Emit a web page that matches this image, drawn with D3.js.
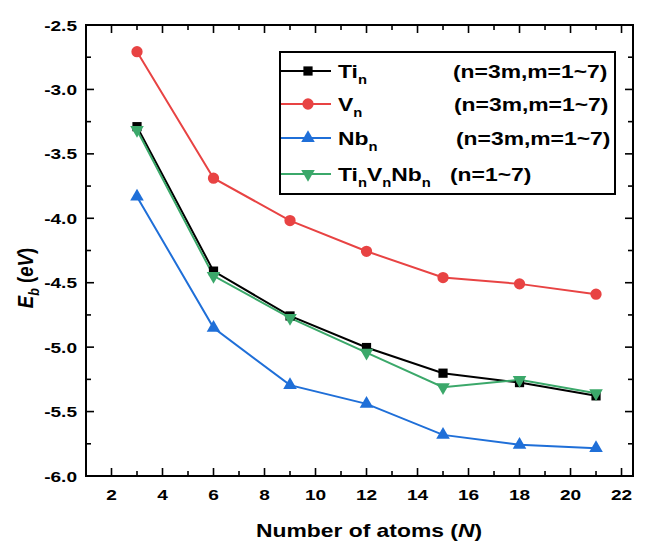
<!DOCTYPE html>
<html><head><meta charset="utf-8">
<script src="https://cdn.jsdelivr.net/npm/d3@7"></script>
<style>body{margin:0;background:#fff}svg{display:block}text{font-family:"Liberation Sans",Arial,sans-serif;font-weight:bold}</style>
</head><body><svg id="c" width="648" height="541"></svg>
<script>
const atoms = [3, 6, 9, 12, 15, 18, 21];
const tiValues = [-3.289, -4.41, -4.758, -5.003, -5.202, -5.275, -5.378];
const vValues = [-2.707, -3.689, -4.018, -4.256, -4.46, -4.509, -4.589];
const nbValues = [-3.832, -4.85, -5.295, -5.44, -5.681, -5.758, -5.784];
const tvnValues = [-3.315, -4.447, -4.773, -5.042, -5.311, -5.254, -5.357];
const xTicks = [2, 4, 6, 8, 10, 12, 14, 16, 18, 20, 22];
const yTicks = [-2.5, -3.0, -3.5, -4.0, -4.5, -5.0, -5.5, -6.0];

const series = [
  {name: "Ti", sub: ["n"], note: "(n=3m,m=1~7)", values: tiValues, color: "#000000", sym: "square"},
  {name: "V", sub: ["n"], note: "(n=3m,m=1~7)", values: vValues, color: "#e84343", sym: "circle"},
  {name: "Nb", sub: ["n"], note: "(n=3m,m=1~7)", values: nbValues, color: "#1f6fd8", sym: "tri"},
  {name: "TVN", sub: null, note: "(n=1~7)", values: tvnValues, color: "#3ba86a", sym: "tridown"}
];

const SX = 1.23;
const svg = d3.select("#c");
const L = 86, R = 633, T = 25, B = 476;
const x = d3.scaleLinear().domain([1, 22.45]).range([L, R]);
const y = d3.scaleLinear().domain([-6.0, -2.5]).range([B, T]);

function symPath(s) {
  if (s === "square") return d3.symbol(d3.symbolSquare, 85)();
  if (s === "circle") return d3.symbol(d3.symbolCircle, 100)();
  return d3.symbol(d3.symbolTriangle, 80)();
}
function drawMarker(g, s, cx, cy, color) {
  g.append("path").attr("d", symPath(s))
    .attr("transform", `translate(${cx},${cy})` + (s === "tridown" ? " rotate(180)" : ""))
    .attr("fill", color);
}

// axes with inward ticks
const minorX = d3.range(2, 23, 1);
const minorY = d3.range(-6.0, -2.49, 0.25);
const axG = svg.append("g");
function tickLines(vals, isX, major) {
  const len = major ? 8 : 5;
  vals.forEach(v => {
    if (isX) {
      const px = x(v);
      axG.append("line").attr("x1", px).attr("x2", px).attr("y1", B).attr("y2", B - len);
      axG.append("line").attr("x1", px).attr("x2", px).attr("y1", T).attr("y2", T + len);
    } else {
      const py = y(v);
      axG.append("line").attr("x1", L).attr("x2", L + len).attr("y1", py).attr("y2", py);
      axG.append("line").attr("x1", R).attr("x2", R - len).attr("y1", py).attr("y2", py);
    }
  });
}
tickLines(minorX.filter(v => v % 2 === 1), true, false);
tickLines(xTicks, true, true);
tickLines(minorY.filter(v => Math.abs((v * 2) - Math.round(v * 2)) > 0.01), false, false);
tickLines(yTicks, false, true);
axG.selectAll("line").attr("stroke", "#000").attr("stroke-width", 1.6);
svg.append("rect").attr("x", L).attr("y", T).attr("width", R - L).attr("height", B - T)
  .attr("fill", "none").attr("stroke", "#000").attr("stroke-width", 2);

function stretchText(px, py, anchor, size) {
  const g = svg.append("g").attr("transform", `translate(${px},${py}) scale(${SX},1)`);
  return g.append("text").attr("text-anchor", anchor).attr("font-size", size);
}
xTicks.forEach(v => stretchText(x(v), 500, "middle", 15.5).text(v));
yTicks.forEach(v => stretchText(77, y(v) + 5.5, "end", 15.5).text(d3.format(".1f")(v).replace("−", "-")));

// axis titles
{
  const t = stretchText(369, 537, "middle", 18.6);
  t.append("tspan").text("Number of atoms (");
  t.append("tspan").attr("font-style", "italic").text("N");
  t.append("tspan").text(")");
}
{
  const g = svg.append("g").attr("transform", `translate(33,278) scale(${SX},1) rotate(-90)`);
  const t = g.append("text").attr("text-anchor", "middle").attr("font-size", 18.6);
  t.append("tspan").attr("font-style", "italic").text("E");
  t.append("tspan").attr("font-style", "italic").attr("font-size", 12.5).attr("dy", 5).text("b");
  t.append("tspan").attr("dy", -5).text(" (");
  t.append("tspan").attr("font-style", "italic").text("eV");
  t.append("tspan").text(")");
}

// data
const line = d3.line().x((d, i) => x(atoms[i])).y(d => y(d));
series.forEach(s => {
  svg.append("path").attr("d", line(s.values)).attr("fill", "none")
    .attr("stroke", s.color).attr("stroke-width", 2);
});
series.forEach(s => {
  const g = svg.append("g");
  s.values.forEach((v, i) => drawMarker(g, s.sym, x(atoms[i]), y(v), s.color));
});

// legend
svg.append("rect").attr("x", 280).attr("y", 52).attr("width", 335).attr("height", 142)
  .attr("fill", "#fff").attr("stroke", "#000").attr("stroke-width", 2);
const rowsY = [71, 104, 138, 174];
const notesX = [453, 454, 456, 450];
series.forEach((s, i) => {
  const cy = rowsY[i];
  svg.append("line").attr("x1", 281).attr("x2", 331).attr("y1", cy).attr("y2", cy)
    .attr("stroke", s.color).attr("stroke-width", 2);
  drawMarker(svg, s.sym, 308, cy, s.color);
  const t = stretchText(338, cy + 6.5, "start", 18.6);
  if (s.sub) {
    t.append("tspan").text(s.name);
    t.append("tspan").attr("font-size", 12).attr("dy", 6).text(s.sub[0]);
  } else {
    const parts = ["Ti", "V", "Nb"];
    parts.forEach((p, k) => {
      t.append("tspan").attr("dy", k === 0 ? 0 : -6).text(p);
      t.append("tspan").attr("font-size", 12).attr("dy", 6).text("n");
    });
  }
  stretchText(notesX[i], cy + 6.5, "start", 18.6).text(s.note);
});
</script></body></html>
